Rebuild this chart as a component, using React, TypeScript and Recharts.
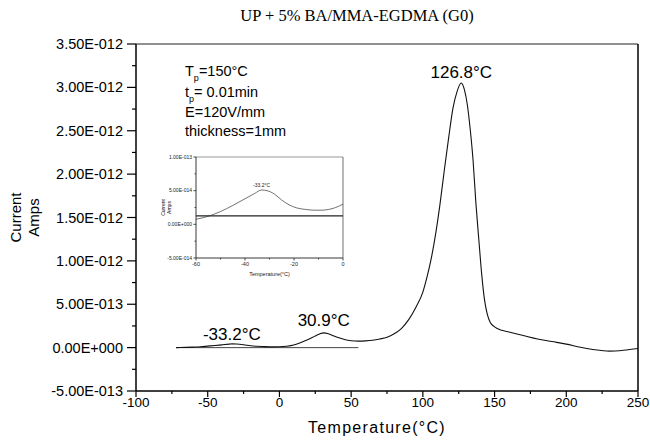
import React from 'react';
import { LineChart, Line, XAxis, YAxis, ReferenceDot, ReferenceLine } from 'recharts';

// main trace, current in pA (1 pA = 1E-012 A)
const temps = [
  -72, -65, -60, -55, -50, -45, -40, -35, -33, -30, -25, -20, -15, -10, -5, 0, 5, 10, 15, 20,
  25, 28, 31, 34, 38, 42, 46, 50, 55, 60, 65, 70, 75, 80, 85, 90, 95, 100, 103, 106,
  109, 112, 115, 118, 121, 124, 126.8, 129, 131, 133, 135, 137, 139, 141, 143, 145, 147, 150, 155, 160,
  170, 180, 190, 200, 210, 220, 230, 240, 250,
];
const currents = [
  0, 0.003, 0.006, 0.01, 0.017, 0.024, 0.032, 0.04, 0.043, 0.041, 0.033, 0.022, 0.015, 0.011, 0.009, 0.01, 0.016, 0.03, 0.06, 0.095,
  0.135, 0.158, 0.17, 0.16, 0.135, 0.11, 0.09, 0.08, 0.075, 0.078, 0.085, 0.1, 0.12, 0.16, 0.22, 0.32, 0.46, 0.64, 0.82, 1.04,
  1.32, 1.66, 2.05, 2.42, 2.76, 2.96, 3.05, 2.97, 2.8, 2.52, 2.16, 1.66, 1.25, 0.85, 0.55, 0.38, 0.29, 0.24, 0.2, 0.18,
  0.14, 0.1, 0.07, 0.04, 0.005, -0.025, -0.04, -0.03, -0.01,
];
const baseTemps = [-72, 55];
const baseCurrents = [0, 0];

// inset (zoom on the low temperature peak)
const insetTemps = [-60, -55, -50, -45, -40, -36, -33.2, -31, -28, -25, -22, -19, -15, -12, -9, -6, -3, 0];
const insetCurrents = [
  0.0075, 0.012, 0.019, 0.028, 0.038, 0.046, 0.051, 0.05, 0.045, 0.036, 0.029, 0.0245, 0.022, 0.021, 0.021, 0.022, 0.025, 0.03,
];
const insetBaseTemps = [-60, 0];
const insetBaseCurrents = [0.0125, 0.0125];

const xTicks = [-100, -75, -50, -25, 0, 25, 50, 75, 100, 125, 150, 175, 200, 225, 250];
const yTicks = [-0.5, -0.25, 0, 0.25, 0.5, 0.75, 1, 1.25, 1.5, 1.75, 2, 2.25, 2.5, 2.75, 3, 3.25, 3.5];
const insetXTicks = [-60, -50, -40, -30, -20, -10, 0];
const insetYTicks = [-0.05, -0.025, 0, 0.025, 0.05, 0.075, 0.1];

const peaks = [
  { t: 126.8, i: 3.05, text: '126.8°C', offset: 4 },
  { t: 30.9, i: 0.17, text: '30.9°C', offset: 6 },
  { t: -33.2, i: 0.043, text: '-33.2°C', offset: 3 },
];

const mainData = temps.map((t, k) => ({ t, i: currents[k] }));
const baseData = baseTemps.map((t, k) => ({ t, i: baseCurrents[k] }));
const insetData = insetTemps.map((t, k) => ({ t, i: insetCurrents[k] }));
const insetBase = insetBaseTemps.map((t, k) => ({ t, i: insetBaseCurrents[k] }));

const SANS = '"Liberation Sans", Arial, sans-serif';

// pA -> "3.50E-012"
const fmt = (v: number) => {
  const s = (v * 1e-12).toExponential(2);
  const [m, e] = s.split('e');
  const sign = e[0] === '-' ? '-' : '+';
  return `${m}E${sign}${String(Math.abs(parseInt(e, 10))).padStart(3, '0')}`;
};

const MainXTick = ({ x, y, payload }: any) => {
  const major = payload.value % 50 === 0;
  return (
    <g>
      <line x1={x} y1={y} x2={x} y2={y + (major ? 6 : 3)} stroke="#000" strokeWidth={1.2} />
      {major && (
        <text x={x} y={y + 16} textAnchor="middle" fontSize={13.5} fontFamily={SANS} fill="#000">
          {payload.value}
        </text>
      )}
    </g>
  );
};

const MainYTick = ({ x, y, payload }: any) => {
  const v = payload.value;
  const major = Math.abs(v * 2 - Math.round(v * 2)) < 1e-9;
  return (
    <g>
      <line x1={x} y1={y} x2={x - (major ? 9 : 4)} y2={y} stroke="#000" strokeWidth={1.2} />
      {major && (
        <text x={x - 13} y={y} dy="0.35em" textAnchor="end" fontSize={14.5} fontFamily={SANS} fill="#000">
          {fmt(v)}
        </text>
      )}
    </g>
  );
};

const InsetXTick = ({ x, y, payload }: any) => {
  const major = payload.value % 20 === 0;
  return (
    <g>
      <line x1={x} y1={y} x2={x} y2={y + (major ? 2.5 : 1.5)} stroke="#222" strokeWidth={0.8} />
      {major && (
        <text x={x} y={y + 7.5} textAnchor="middle" fontSize={5.5} fontFamily={SANS} fill="#222">
          {payload.value}
        </text>
      )}
    </g>
  );
};

const InsetYTick = ({ x, y, payload }: any) => {
  const v = payload.value;
  const major = Math.abs(v * 20 - Math.round(v * 20)) < 1e-9;
  return (
    <g>
      <line x1={x} y1={y} x2={x - (major ? 2.5 : 1.5)} y2={y} stroke="#222" strokeWidth={0.8} />
      {major && (
        <text x={x - 4} y={y} dy="0.35em" textAnchor="end" fontSize={5} fontFamily={SANS} fill="#222">
          {fmt(v)}
        </text>
      )}
    </g>
  );
};

const yLabel = (size: number, x1: number, x2: number) => (props: any) => {
  const { viewBox } = props;
  const cy = viewBox.y + viewBox.height / 2;
  return (
    <g fontFamily={SANS} fontSize={size} fill="#000" textAnchor="middle">
      <text transform={`translate(${viewBox.x + x1},${cy}) rotate(-90)`} dy="0.35em">Current</text>
      <text transform={`translate(${viewBox.x + x2},${cy}) rotate(-90)`} dy="0.35em">Amps</text>
    </g>
  );
};

const xLabel = (props: any) => {
  const { viewBox } = props;
  return (
    <text
      x={viewBox.x + viewBox.width / 2 - 10}
      y={viewBox.y + 42}
      textAnchor="middle"
      fontFamily={SANS}
      fontSize={16}
      letterSpacing={1.3}
      fill="#000"
    >
      Temperature(°C)
    </text>
  );
};

const Inset = () => (
  <div style={{ position: 'absolute', left: 160, top: 150 }}>
    <LineChart width={190} height={128} margin={{ top: 7, right: 7, bottom: 0, left: 0 }}>
      <XAxis
        type="number"
        dataKey="t"
        domain={[-60, 0]}
        ticks={insetXTicks}
        interval={0}
        tick={<InsetXTick />}
        tickLine={false}
        tickSize={0}
        tickMargin={0}
        height={20}
        axisLine={{ stroke: '#222', strokeWidth: 0.9 }}
        label={{ value: 'Temperature(°C)', position: 'insideBottom', offset: 2, fontSize: 5.5, fill: '#222', fontFamily: SANS }}
      />
      <YAxis
        type="number"
        domain={[-0.05, 0.1]}
        ticks={insetYTicks}
        interval={0}
        width={36}
        tick={<InsetYTick />}
        tickLine={false}
        tickSize={0}
        tickMargin={0}
        axisLine={{ stroke: '#222', strokeWidth: 0.9 }}
        label={yLabel(5, 3, 9)}
      />
      <ReferenceLine y={0.1} stroke="#555" strokeWidth={0.6} />
      <ReferenceLine x={0} stroke="#333" strokeWidth={0.7} />
      <Line data={insetBase} dataKey="i" stroke="#222" strokeWidth={1.1} dot={false} isAnimationActive={false} />
      <Line data={insetData} dataKey="i" type="monotone" stroke="#333" strokeWidth={0.7} dot={false} isAnimationActive={false} />
      <ReferenceDot
        x={-33.2}
        y={0.051}
        r={1}
        fill="none"
        stroke="none"
        label={{ value: '-33.2°C', position: 'top', offset: 2, fontSize: 5, fill: '#222', fontFamily: SANS }}
      />
    </LineChart>
  </div>
);

const App = () => {
  return (
    <div style={{ position: 'absolute', left: 0, top: 0, width: 650, height: 440, background: '#fff' }}>
      <div
        style={{
          position: 'absolute',
          left: 237,
          top: 6,
          width: 240,
          textAlign: 'center',
          fontFamily: '"Liberation Serif", "Times New Roman", serif',
          fontSize: 16.5,
          whiteSpace: 'nowrap',
        }}
      >
        UP + 5% BA/MMA-EGDMA (G0)
      </div>
      <LineChart width={650} height={440} margin={{ top: 44, right: 12, bottom: 0, left: 0 }}>
        <XAxis
          type="number"
          dataKey="t"
          domain={[-100, 250]}
          ticks={xTicks}
          interval={0}
          tick={<MainXTick />}
          tickLine={false}
          tickSize={0}
          tickMargin={0}
          height={49}
          axisLine={{ stroke: '#000', strokeWidth: 1.5 }}
          label={xLabel}
        />
        <YAxis
          type="number"
          domain={[-0.5, 3.5]}
          ticks={yTicks}
          interval={0}
          width={136}
          tick={<MainYTick />}
          tickLine={false}
          tickSize={0}
          tickMargin={0}
          axisLine={{ stroke: '#000', strokeWidth: 1.5 }}
          label={yLabel(15, 16, 34)}
        />
        <ReferenceLine y={3.5} stroke="#222" strokeWidth={1.2} />
        <ReferenceLine x={250} stroke="#000" strokeWidth={1.5} />
        <Line data={baseData} dataKey="i" stroke="#444" strokeWidth={1} dot={false} isAnimationActive={false} />
        <Line data={mainData} dataKey="i" type="monotone" stroke="#111" strokeWidth={1.1} dot={false} isAnimationActive={false} />
        {peaks.map((p) => (
          <ReferenceDot
            key={p.text}
            x={p.t}
            y={p.i}
            r={1}
            fill="none"
            stroke="none"
            label={{ value: p.text, position: 'top', offset: p.offset, fontSize: 17, fill: '#000', fontFamily: SANS }}
          />
        ))}
      </LineChart>
      <Inset />
      <div
        style={{
          position: 'absolute',
          left: 185,
          top: 62,
          fontFamily: SANS,
          fontSize: 14.5,
          lineHeight: '18.6px',
          color: '#000',
          whiteSpace: 'nowrap',
        }}
      >
        <div>
          T<span style={{ fontSize: 9, position: 'relative', top: 5 }}>p</span>=150°C
        </div>
        <div>
          t<span style={{ fontSize: 9, position: 'relative', top: 5 }}>p</span>= 0.01min
        </div>
        <div>E=120V/mm</div>
        <div>thickness=1mm</div>
      </div>
    </div>
  );
};

export default App;
